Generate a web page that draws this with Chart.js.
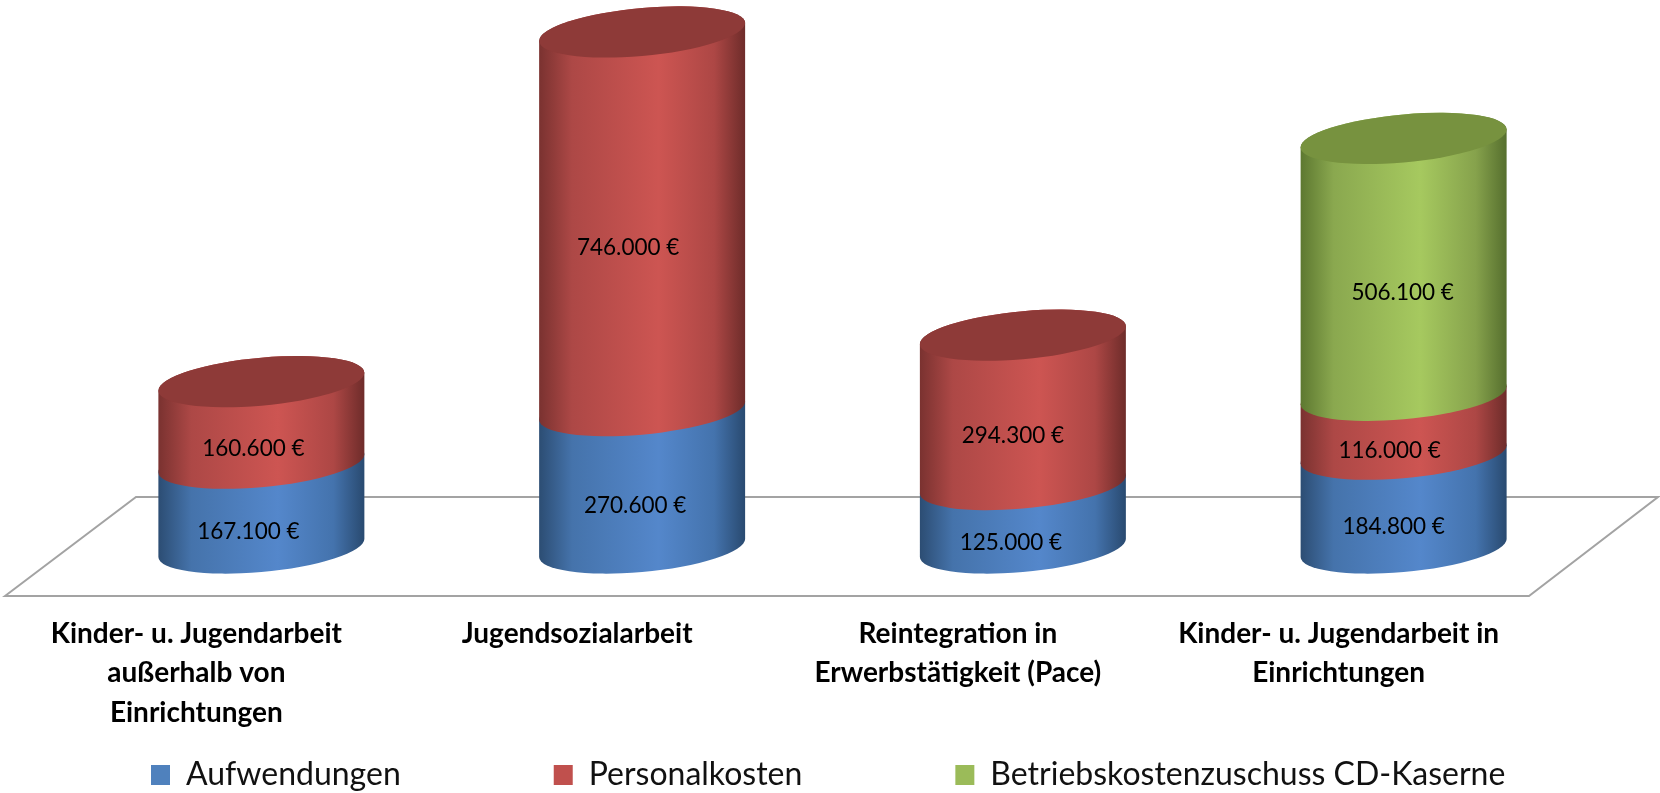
<!DOCTYPE html>
<html lang="de">
<head>
<meta charset="utf-8">
<title>Aufwendungen</title>
<style>html,body{margin:0;padding:0;background:#fff}canvas{display:block}</style>
<script src="https://cdn.jsdelivr.net/npm/chart.js@4/dist/chart.umd.min.js"></script>
</head>
<body>
<canvas id="c" width="1660" height="793"></canvas>
<script>
const categories = [
  ["Kinder- u. Jugendarbeit", "außerhalb von", "Einrichtungen"],
  ["Jugendsozialarbeit"],
  ["Reintegration in", "Erwerbstätigkeit (Pace)"],
  ["Kinder- u. Jugendarbeit in", "Einrichtungen"]
];
const aufwendungen = [167100, 270600, 125000, 184800];
const personalkosten = [160600, 746000, 294300, 116000];
const betriebskosten = [null, null, null, 506100];

const seriesNames = ["Aufwendungen", "Personalkosten", "Betriebskostenzuschuss CD-Kaserne"];
const seriesColors = ["#4f81bd", "#c0504d", "#9bbb59"];
// side shading of each cylinder: edge, mid, highlight, mid, edge
const sideShades = [
  ["#2c4d73", "#4573ab", "#5487cb", "#4473ad", "#294a70"],
  ["#7a3230", "#ad4846", "#cd5552", "#ad4745", "#6e2c2a"],
  ["#5d7830", "#8aa84f", "#a6c95f", "#86a24c", "#566f2e"]
];
const capColors = ["#3c6494", "#8e3a38", "#77923f"];
// label nudges as placed in the reference
const labelNudge = [
  [-13, -7, -12, -10],
  [-8, -14, -10, -14],
  [0, 0, 0, -1]
];
const FONT = "Lato, Carlito, Calibri, sans-serif";

function euro(v) {
  return String(v).replace(/\B(?=(\d{3})+$)/g, ".") + " €";
}

function cylinderPath(ctx, cx, half, yTop, yBase, shear, minor) {
  ctx.save();
  ctx.transform(1, -shear / half, 0, 1, cx, 0);
  ctx.beginPath();
  ctx.ellipse(0, yTop, half, minor, 0, Math.PI, 2 * Math.PI, false);
  ctx.ellipse(0, yBase, half, minor, 0, 0, Math.PI, false);
  ctx.closePath();
  ctx.restore();
}

const cylinders = {
  id: "cylinders",
  beforeLayout(chart) {
    const lg = chart.legend;
    if (lg && !lg._wrapped) {
      const fit = lg.fit.bind(lg);
      lg.fit = function () {
        this.maxWidth = 4000;
        fit();
        this.width = chart.width;
        this.height = 40;
      };
      lg._wrapped = true;
    }
  },
  afterLayout(chart) {
    const lg = chart.legend;
    const pad = lg.options.labels.padding;
    lg.left = 151 - pad;
    lg.right = 4000;
    lg.top = 759 - pad;
  },
  beforeDatasetsDraw(chart) {
    const { ctx, chartArea: a, scales: { y } } = chart;
    const y0 = y.getPixelForValue(0);
    ctx.save();
    ctx.strokeStyle = "#a3a3a3";
    ctx.lineWidth = 2;
    ctx.lineJoin = "miter";
    ctx.beginPath();
    ctx.moveTo(a.left - 66, y0 + 48);
    ctx.lineTo(a.left + 65, y0 - 51);
    ctx.lineTo(a.right + 64, y0 - 51);
    ctx.lineTo(a.right - 65, y0 + 48);
    ctx.closePath();
    ctx.stroke();
    ctx.restore();
  },
  beforeDatasetDraw() { return false; },
  afterDatasetsDraw(chart) {
    const ctx = chart.ctx;
    const shear = 9, minor = 24;
    categories.forEach((_, j) => {
      let topBar = null, topIdx = 0;
      chart.data.datasets.forEach((ds, i) => {
        if (ds.data[j] == null) return;
        const b = chart.getDatasetMeta(i).data[j];
        const half = b.width / 2;
        cylinderPath(ctx, b.x, half, b.y, b.base, shear, minor);
        const g = ctx.createLinearGradient(b.x - half, 0, b.x + half, 0);
        const s = sideShades[i];
        g.addColorStop(0, s[0]);
        g.addColorStop(0.16, s[1]);
        g.addColorStop(0.58, s[2]);
        g.addColorStop(0.85, s[3]);
        g.addColorStop(1, s[4]);
        ctx.fillStyle = g;
        ctx.fill();
        topBar = b; topIdx = i;
      });
      // cap
      const half = topBar.width / 2;
      ctx.save();
      ctx.transform(1, -shear / half, 0, 1, topBar.x, 0);
      ctx.beginPath();
      ctx.ellipse(0, topBar.y, half, minor, 0, 0, 2 * Math.PI);
      ctx.restore();
      ctx.fillStyle = capColors[topIdx];
      ctx.fill();
      // value labels
      chart.data.datasets.forEach((ds, i) => {
        if (ds.data[j] == null) return;
        const b = chart.getDatasetMeta(i).data[j];
        ctx.fillStyle = "#000";
        ctx.font = "22.5px " + FONT;
        ctx.textAlign = "center";
        ctx.textBaseline = "middle";
        ctx.fillText(euro(ds.data[j]), b.x + labelNudge[i][j], (b.y + b.base) / 2 + 26);
      });
    });
  }
};

new Chart(document.getElementById("c"), {
  type: "bar",
  data: {
    labels: categories,
    datasets: [
      { label: seriesNames[0], data: aufwendungen, backgroundColor: seriesColors[0] },
      { label: seriesNames[1], data: personalkosten, backgroundColor: seriesColors[1] },
      { label: seriesNames[2], data: betriebskosten, backgroundColor: seriesColors[2] }
    ]
  },
  options: {
    responsive: false,
    animation: false,
    devicePixelRatio: 1,
    barPercentage: 0.541,
    categoryPercentage: 1,
    layout: { padding: { left: 71, right: 66, top: 14, bottom: 0 } },
    scales: {
      x: {
        stacked: true,
        grid: { display: false, drawTicks: false },
        border: { display: false },
        afterFit(scale) { scale.height = 205; },
        ticks: {
          autoSkip: false, maxRotation: 0, minRotation: 0,
          padding: 66, labelOffset: -65, color: "#000",
          font: { family: FONT, size: 28, weight: "bold", lineHeight: 1.414 }
        }
      },
      y: { stacked: true, display: false, min: 0, max: 1052000 }
    },
    plugins: {
      tooltip: { enabled: false },
      legend: {
        position: "bottom",
        align: "start",
        labels: {
          boxWidth: 19, boxHeight: 20, padding: 153, color: "#111",
          font: { family: FONT, size: 32 }
        }
      }
    }
  },
  plugins: [cylinders]
});
</script>
</body>
</html>
